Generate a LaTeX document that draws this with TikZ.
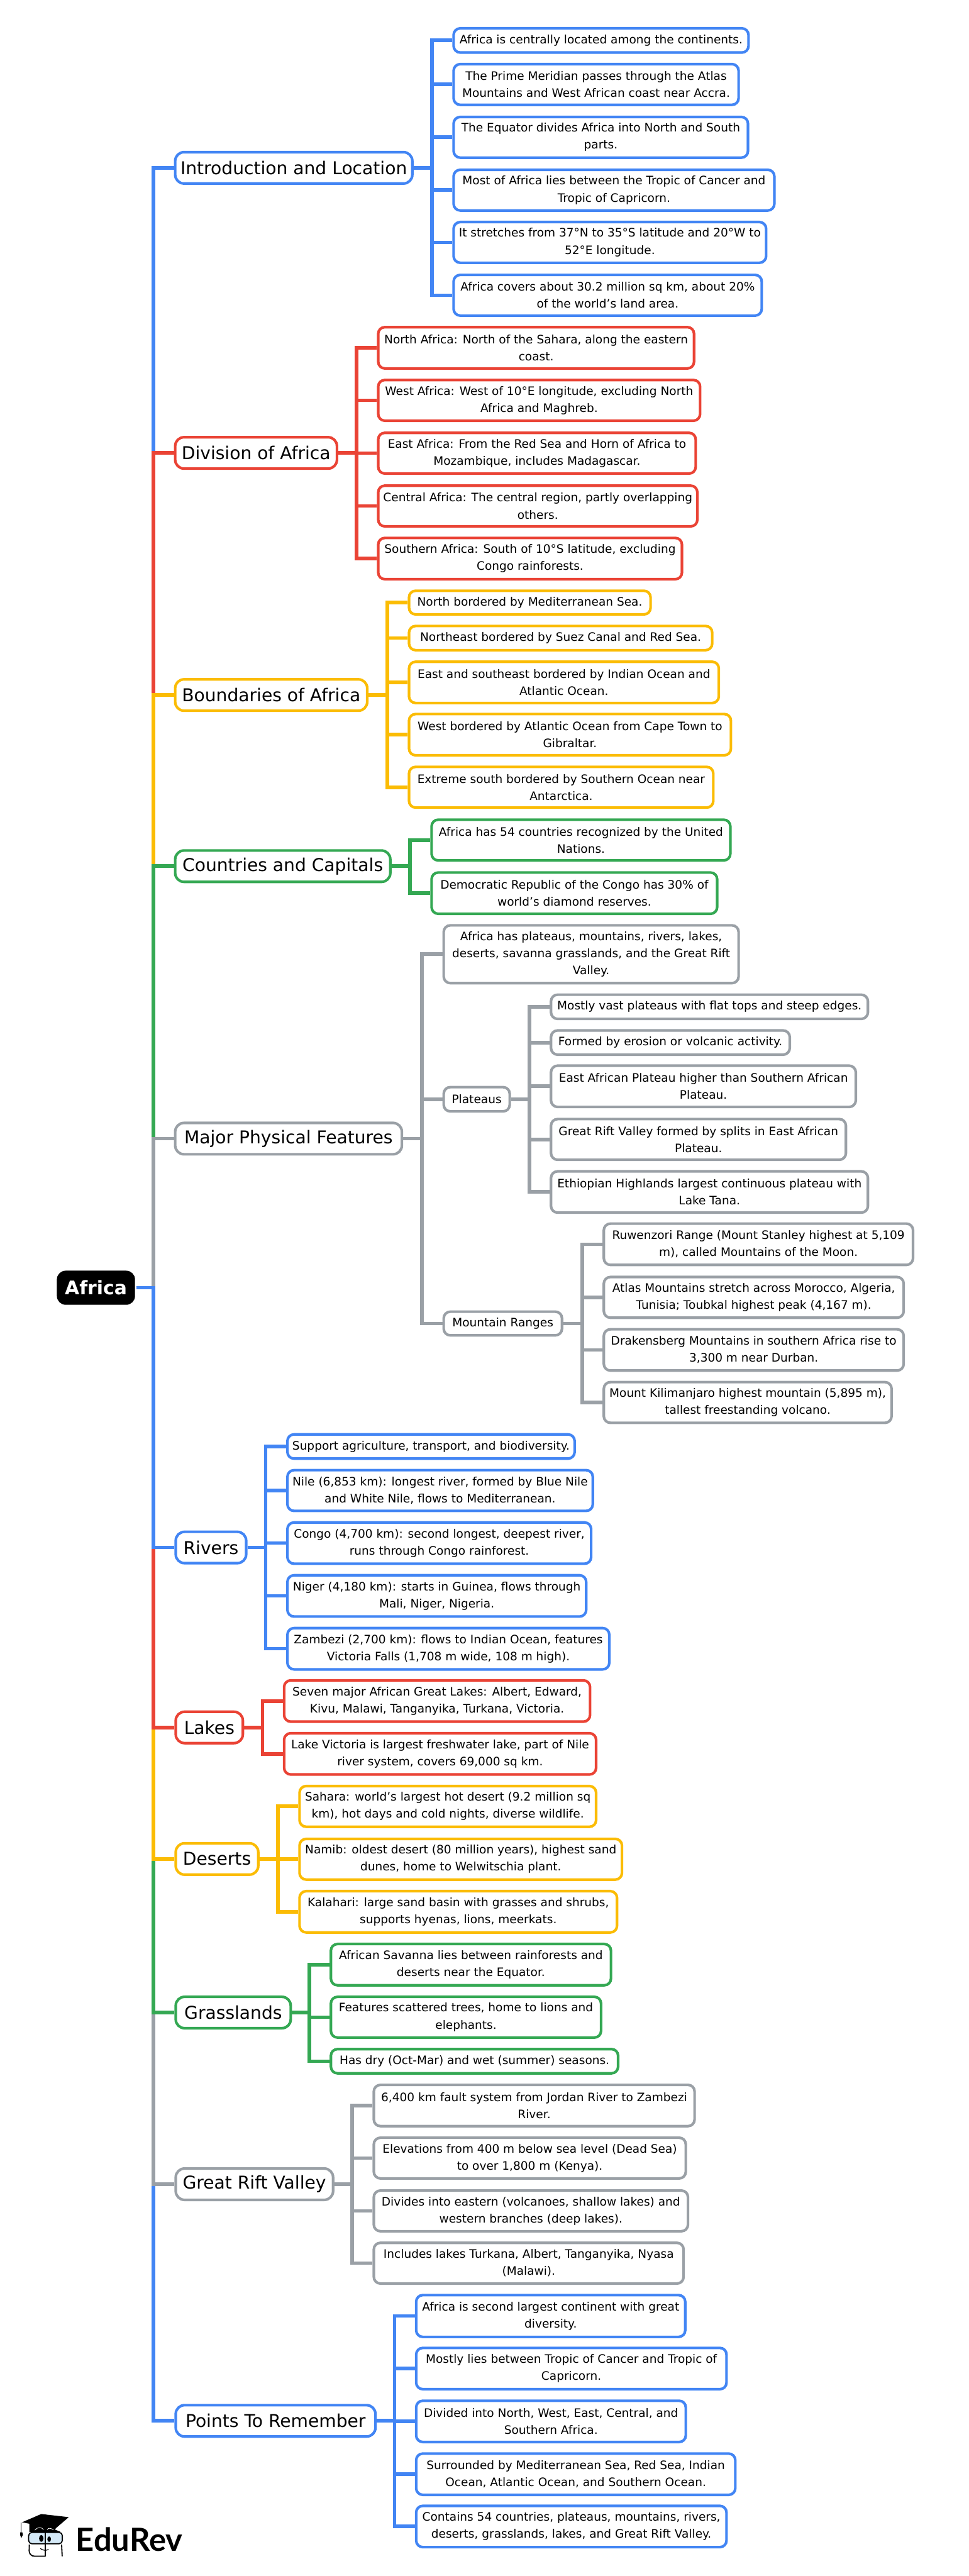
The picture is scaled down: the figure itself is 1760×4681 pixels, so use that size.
\documentclass[tikz,border=0pt]{standalone}
\usepackage{fontspec}
\setmainfont{DejaVu Sans}
\newfontfamily\logofont{Lato}

\definecolor{mapblue}{HTML}{4285F4}
\definecolor{mapred}{HTML}{EA4335}
\definecolor{mapyellow}{HTML}{FBBC04}
\definecolor{mapgreen}{HTML}{34A853}
\definecolor{mapgrey}{HTML}{9AA0A6}
\definecolor{lensblue}{HTML}{D4E9F7}

\tikzset{
  wd/.style={minimum width=#1*0.02cm},
  ht/.style={minimum height=#1*0.02cm},
  box/.style={rectangle, rounded corners=0.24cm, line width=2.7pt, fill=white, inner sep=0pt, anchor=west, align=center},
  leaf/.style={box, font=\fontsize{12.05}{17.65}\selectfont},
  topic/.style={box, rounded corners=0.32cm, ht=57, wd=#1, font=\fontsize{18.3}{22}\selectfont},
  link/.style={line width=3.7pt},
}

% parent, colour, left edge of the boxes, list of boxes
\newcommand{\leaves}[4]{
  \foreach \leafname/\xr/\yt/\yb/\txt in {#4}{
    \node[leaf, draw=#2, wd={(\xr-#3)}, ht={(\yb-\yt-1)}] (\leafname) at (#3,{(\yt+\yb)/2}) {\txt};
    \draw[link, #2] (#1.east) -| ({#3-37},{(\yt+\yb)/2}) -- (\leafname.west);
  }
}

\begin{document}
\begin{tikzpicture}[x=0.02cm, y=-0.02cm]

\useasboundingbox (0,0) rectangle (1760,4681);

\node[box, fill=black, draw=none, text=white, wd=142, ht=62, rounded corners=0.32cm, font=\fontsize{19.4}{24}\selectfont\bfseries] (africa) at (101,2340) {Africa};

\node[topic=431, draw=mapblue] (intro) at (316,305) {Introduction and Location};
\node[topic=294, draw=mapred] (division) at (316,823) {Division of Africa};
\node[topic=349, draw=mapyellow] (boundaries) at (316,1263) {Boundaries of Africa};
\node[topic=391, draw=mapgreen] (countries) at (316,1574) {Countries and Capitals};
\node[topic=412, draw=mapgrey] (physical) at (316,2069) {Major Physical Features};
\node[topic=128, draw=mapblue] (rivers) at (317,2812) {Rivers};
\node[topic=122, draw=mapred] (lakes) at (317,3139) {Lakes};
\node[topic=150, draw=mapyellow] (deserts) at (317,3378) {Deserts};
\node[topic=209, draw=mapgreen] (grasslands) at (317,3657) {Grasslands};
\node[topic=286, draw=mapgrey] (rift) at (317,3969) {Great Rift Valley};
\node[topic=363, draw=mapblue] (remember) at (317,4399) {Points To Remember};

\coordinate (bus) at (278.5,2340);

\foreach \topicname/\clr in {intro/mapblue,division/mapred,boundaries/mapyellow,countries/mapgreen,physical/mapgrey,remember/mapblue,rift/mapgrey,grasslands/mapgreen,deserts/mapyellow,lakes/mapred,rivers/mapblue}
\draw[link, \clr] (africa.east) -- (bus) |- (\topicname.west);

\leaves{intro}{mapblue}{822}{
  i1/1358/51/96/{Africa is centrally located among the continents.},
  i2/1340/116/191/{The Prime Meridian passes through the Atlas\\Mountains and West African coast near Accra.},
  i3/1357/212/287/{The Equator divides Africa into North and South\\parts.},
  i4/1405/308/383/{Most of Africa lies between the Tropic of Cancer and\\Tropic of Capricorn.},
  i5/1390/403/478/{It stretches from 37°N to 35°S latitude and 20°W to\\52°E longitude.},
  i6/1382/499/574/{Africa covers about 30.2 million sq km, about 20\%\\of the world’s land area.}}

\leaves{division}{mapred}{685}{
  d1/1259/594/670/{North Africa: North of the Sahara, along the eastern\\coast.},
  d2/1270/690/765/{West Africa: West of 10°E longitude, excluding North\\Africa and Maghreb.},
  d3/1262/786/861/{East Africa: From the Red Sea and Horn of Africa to\\Mozambique, includes Madagascar.},
  d4/1265/882/957/{Central Africa: The central region, partly overlapping\\others.},
  d5/1237/977/1053/{Southern Africa: South of 10°S latitude, excluding\\Congo rainforests.}}

\leaves{boundaries}{mapyellow}{741}{
  b1/1180/1073/1117/{North bordered by Mediterranean Sea.},
  b2/1292/1137/1182/{Northeast bordered by Suez Canal and Red Sea.},
  b3/1304/1202/1278/{East and southeast bordered by Indian Ocean and\\Atlantic Ocean.},
  b4/1326/1297/1373/{West bordered by Atlantic Ocean from Cape Town to\\Gibraltar.},
  b5/1294/1393/1468/{Extreme south bordered by Southern Ocean near\\Antarctica.}}

\leaves{countries}{mapgreen}{782}{
  c1/1325/1489/1564/{Africa has 54 countries recognized by the United\\Nations.},
  c2/1301/1585/1661/{Democratic Republic of the Congo has 30\% of\\world’s diamond reserves.}}

\leaves{physical}{mapgrey}{804}{
  m1/1340/1681/1787/{Africa has plateaus, mountains, rivers, lakes,\\deserts, savanna grasslands, and the Great Rift\\Valley.},
  plateaus/924/1975/2020/{Plateaus},
  ranges/1019/2383/2427/{Mountain Ranges}}

\leaves{plateaus}{mapgrey}{999}{
  p1/1575/1807/1852/{Mostly vast plateaus with flat tops and steep edges.},
  p2/1433/1872/1917/{Formed by erosion or volcanic activity.},
  p3/1553/1936/2012/{East African Plateau higher than Southern African\\Plateau.},
  p4/1535/2033/2108/{Great Rift Valley formed by splits in East African\\Plateau.},
  p5/1575/2128/2204/{Ethiopian Highlands largest continuous plateau with\\Lake Tana.}}

\leaves{ranges}{mapgrey}{1095}{
  r1/1657/2223/2299/{Ruwenzori Range (Mount Stanley highest at 5,109\\m), called Mountains of the Moon.},
  r2/1640/2320/2395/{Atlas Mountains stretch across Morocco, Algeria,\\Tunisia; Toubkal highest peak (4,167 m).},
  r3/1640/2415/2491/{Drakensberg Mountains in southern Africa rise to\\3,300 m near Durban.},
  r4/1618/2511/2586/{Mount Kilimanjaro highest mountain (5,895 m),\\tallest freestanding volcano.}}

\leaves{rivers}{mapblue}{520}{
  v1/1042/2606/2651/{Support agriculture, transport, and biodiversity.},
  v2/1075/2671/2746/{Nile (6,853 km): longest river, formed by Blue Nile\\and White Nile, flows to Mediterranean.},
  v3/1072/2766/2842/{Congo (4,700 km): second longest, deepest river,\\runs through Congo rainforest.},
  v4/1063/2862/2938/{Niger (4,180 km): starts in Guinea, flows through\\Mali, Niger, Nigeria.},
  v5/1105/2958/3034/{Zambezi (2,700 km): flows to Indian Ocean, features\\Victoria Falls (1,708 m wide, 108 m high).}}

\leaves{lakes}{mapred}{514}{
  l1/1070/3053/3129/{Seven major African Great Lakes: Albert, Edward,\\Kivu, Malawi, Tanganyika, Turkana, Victoria.},
  l2/1081/3149/3225/{Lake Victoria is largest freshwater lake, part of Nile\\river system, covers 69,000 sq km.}}

\leaves{deserts}{mapyellow}{542}{
  e1/1081/3245/3320/{Sahara: world’s largest hot desert (9.2 million sq\\km), hot days and cold nights, diverse wildlife.},
  e2/1128/3341/3416/{Namib: oldest desert (80 million years), highest sand\\dunes, home to Welwitschia plant.},
  e3/1119/3436/3512/{Kalahari: large sand basin with grasses and shrubs,\\supports hyenas, lions, meerkats.}}

\leaves{grasslands}{mapgreen}{599}{
  g1/1108/3532/3608/{African Savanna lies between rainforests and\\deserts near the Equator.},
  g2/1090/3628/3703/{Features scattered trees, home to lions and\\elephants.},
  g3/1121/3723/3768/{Has dry (Oct-Mar) and wet (summer) seasons.}}

\leaves{rift}{mapgrey}{677}{
  t1/1260/3788/3864/{6,400 km fault system from Jordan River to Zambezi\\River.},
  t2/1244/3884/3959/{Elevations from 400 m below sea level (Dead Sea)\\to over 1,800 m (Kenya).},
  t3/1248/3980/4055/{Divides into eastern (volcanoes, shallow lakes) and\\western branches (deep lakes).},
  t4/1240/4075/4150/{Includes lakes Turkana, Albert, Tanganyika, Nyasa\\(Malawi).}}

\leaves{remember}{mapblue}{754}{
  q1/1243/4170/4247/{Africa is second largest continent with great\\diversity.},
  q2/1318/4266/4342/{Mostly lies between Tropic of Cancer and Tropic of\\Capricorn.},
  q3/1244/4362/4438/{Divided into North, West, East, Central, and\\Southern Africa.},
  q4/1334/4458/4534/{Surrounded by Mediterranean Sea, Red Sea, Indian\\Ocean, Atlantic Ocean, and Southern Ocean.},
  q5/1318/4553/4629/{Contains 54 countries, plateaus, mountains, rivers,\\deserts, grasslands, lakes, and Great Rift Valley.}}

% logo
\begin{scope}[shift={(20,4550)}, scale=0.3333]
\fill[black] (60,100) -- (165,55) -- (315,72) -- (245,132) -- (240,140) -- (270,152) -- (100,152) -- (100,108) -- cycle;
\draw[white, line width=0.5pt] (130,143) .. controls (145,125) and (165,125) .. (178,140);
\draw[white, line width=0.5pt] (197,140) .. controls (205,130) and (215,130) .. (232,142);
\draw[black, line width=0.8pt] (56,100) -- (56,155);
\fill[black] (50,155) -- (62,155) -- (65,168) -- (56,186) -- (50,170) -- cycle;
\draw[black, line width=1.2pt, fill=lensblue, rounded corners=0.12cm] (96,155) rectangle (280,217);
\draw[black, line width=1.2pt, rounded corners=0.2cm] (100,222) -- (98,285) -- (187,285);
\draw[black, line width=1.2pt, rounded corners=0.2cm] (276,222) -- (279,285);
\draw[black, line width=1.2pt] (187,140) -- (187,288);
\fill[black] (165,188) ellipse (12 and 19);
\fill[black] (208,192) ellipse (10 and 15);
\draw[black, line width=0.8pt] (160,243) .. controls (175,255) and (190,255) .. (205,248);
\node[anchor=west, inner sep=0pt, font=\fontsize{33}{38}\logofont\bfseries] (edurev) at (353,193) {EduRev};
\end{scope}

\end{tikzpicture}
\end{document}
